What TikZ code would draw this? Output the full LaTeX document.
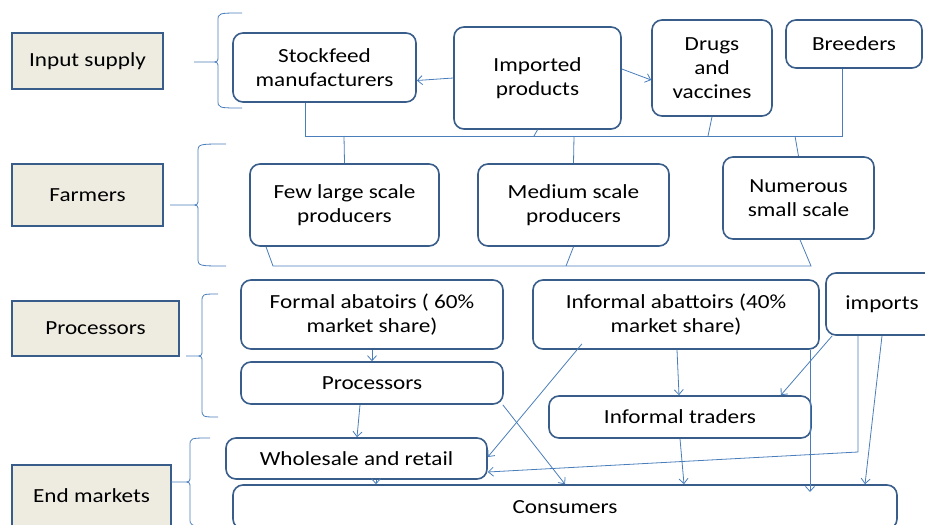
\documentclass[tikz,border=0pt]{standalone}
\usepackage{fontspec}
\setmainfont{Carlito}[FakeStretch=1.16]
\usetikzlibrary{arrows.meta}
\definecolor{boxline}{RGB}{56,93,138}
\definecolor{linkblue}{RGB}{74,126,187}
\definecolor{catfill}{RGB}{238,236,225}
\newcommand\layerbrace[6]{%
  \draw[link] (#6,#4) .. controls (#3,#4) .. (#3,#4+8) -- (#3,#2-6)
    .. controls (#3,#2) .. (#3-8,#2) -- (#1,#2) -- (#3-8,#2)
    .. controls (#3,#2) .. (#3,#2+6) -- (#3,#5-8) .. controls (#3,#5) .. (#6,#5);}
\begin{document}
\begin{tikzpicture}[x=1pt, y=-1pt,
  font=\fontsize{20}{24}\selectfont,
  cat/.style = {draw=boxline, line width=1.6pt, fill=catfill,
    align=center, inner sep=0pt},
  actor/.style = {draw=boxline, line width=1.6pt, fill=white,
    rounded corners=10pt, align=center, inner sep=0pt},
  link/.style = {draw=linkblue, line width=0.8pt},
  flow/.style = {link, -{Straight Barb[length=5pt,width=9pt]}}]
  \useasboundingbox (0,0) rectangle (925,524);
  \clip (0,0) rectangle (925,524);

  \node[cat, minimum width=151pt, minimum height=56pt] (inputs) at (87.5,61) {Input supply};
  \node[cat, minimum width=151pt, minimum height=62pt] (farmers) at (87.5,195) {Farmers};
  \node[cat, minimum width=167pt, minimum height=55pt] (procs) at (95.5,328.5) {Processors};
  \node[cat, minimum width=159pt, minimum height=62pt] (endmk) at (91.5,496) {End markets};

  \layerbrace{194}{62}{218}{13}{108}{242}
  \layerbrace{170}{205}{198}{144}{266}{226}
  \layerbrace{186}{356}{202}{294}{417}{218}
  \layerbrace{171}{482}{190}{438}{526}{210}

  \node[actor, minimum width=183pt, minimum height=69pt] (stockfeed) at (324.5,67.5) {Stockfeed\\manufacturers};
  \node[actor, minimum width=167pt, minimum height=102pt] (imported) at (537.5,78) {Imported\\products};
  \node[actor, minimum width=120pt, minimum height=96pt] (drugs) at (712,68) {Drugs\\and\\vaccines};
  \node[actor, minimum width=136pt, minimum height=48pt] (breeders) at (854,44) {Breeders};

  \node[actor, minimum width=189pt, minimum height=82pt] (large) at (344.5,205) {Few large scale\\producers};
  \node[actor, minimum width=191pt, minimum height=82pt] (medium) at (573.5,205) {Medium scale\\producers};
  \node[actor, minimum width=151pt, minimum height=82pt] (small) at (798.5,198) {Numerous\\small scale};

  \node[actor, minimum width=262pt, minimum height=69pt] (formal) at (372,314.5) {Formal abatoirs ( 60\%\\market share)};
  \node[actor, minimum width=262pt, minimum height=42pt] (proc) at (372,383) {Processors};
  \node[actor, minimum width=286pt, minimum height=69pt] (informal) at (676,314.5) {Informal abattoirs (40\%\\market share)};
  \node[actor, minimum width=112pt, minimum height=62pt] (imports) at (882,304) {imports};
  \node[actor, minimum width=262pt, minimum height=42pt] (traders) at (680,417) {Informal traders};
  \node[actor, minimum width=261pt, minimum height=41pt] (wholesale) at (356.5,458.5) {Wholesale and retail};
  \node[actor, minimum width=664pt, minimum height=44pt] (consumers) at (565,507) {Consumers};

  \coordinate (tl) at (305,136);
  \coordinate (tr) at (842,136);
  \coordinate (timp) at (534,136);
  \coordinate (tdrug) at (708,136);
  \coordinate (tlarge) at (344,136);
  \coordinate (tmed) at (574,136);
  \coordinate (tsmall) at (795,136);
  \coordinate (bl) at (273,266);
  \coordinate (br) at (811,266);
  \coordinate (bmed) at (566,266);
  \coordinate (infdrop) at (810,492);
  \coordinate (impbend) at (858,452);

  \draw[link] (stockfeed.south -| tl) -- (tl) -- (tr) -- (breeders.south -| tr);
  \draw[link] (imported.south) -- (timp);
  \draw[link] (drugs.south) -- (tdrug);
  \draw[link] (tlarge) -- (large.north);
  \draw[link] (tmed) -- (medium.north);
  \draw[link] (tsmall) -- (small.north);
  \draw[link] ([xshift=-78.5pt]large.south) -- (bl) -- (br) -- ([xshift=1.5pt]small.south);
  \draw[link] (medium.south) -- (bmed);

  \draw[flow] (imported.west) -- ([yshift=-13pt]stockfeed.east);
  \draw[flow] ([yshift=9pt]imported.east) -- ([yshift=-12pt]drugs.west);
  \draw[flow] (formal.south) -- (proc.north);
  \draw[flow] ([xshift=-12pt]proc.south) -- ([xshift=0.5pt]wholesale.north);
  \draw[flow] ([xshift=19.5pt]wholesale.south) -- ([xshift=19.5pt]wholesale.south |- consumers.north);
  \draw[flow] ([xshift=-1pt]proc.south east) -- (consumers.north);
  \draw[flow] ([xshift=-94pt,yshift=6pt]informal.south) -- ([yshift=1.5pt]wholesale.east);
  \draw[flow] ([xshift=1pt]informal.south) -- ([xshift=-1pt]traders.north);
  \draw[flow] (informal.south east -| infdrop) -- (infdrop);
  \draw[flow] ([xshift=7pt]imports.south west) -- ([xshift=-31pt]traders.north east);
  \draw[flow] ([xshift=-24pt]imports.south) -- (impbend) -- ([yshift=-13.5pt]wholesale.east);
  \draw[flow] (imports.south) -- ([xshift=300pt]consumers.north);
  \draw[flow] (traders.south) -- ([xshift=119pt]consumers.north);
\end{tikzpicture}
\end{document}
